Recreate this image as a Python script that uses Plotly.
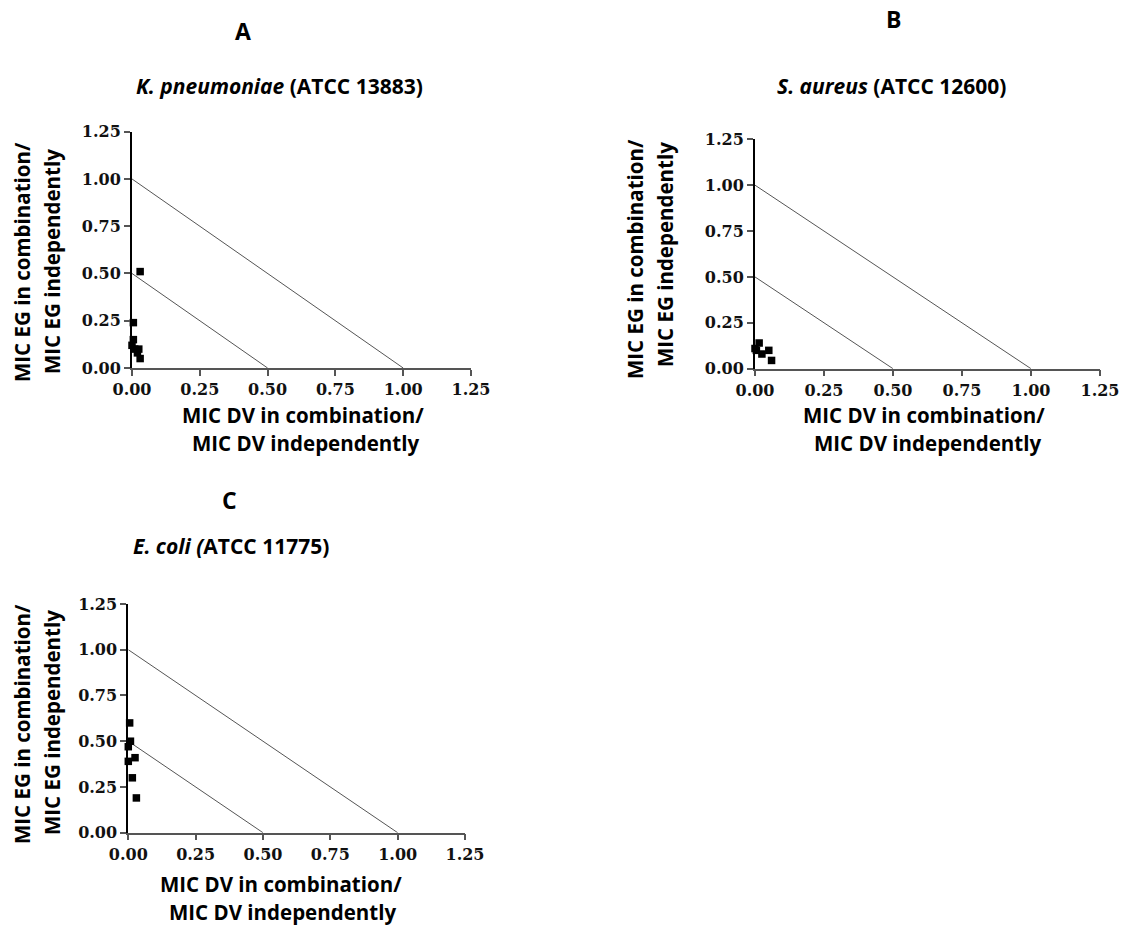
import plotly.graph_objects as go

# ---- data ----
tick_vals = [0, 0.25, 0.5, 0.75, 1.0, 1.25]
tick_text = ["0.00", "0.25", "0.50", "0.75", "1.00", "1.25"]

# isobologram reference lines
line1_x = [0, 1.0]
line1_y = [1.0, 0]
line05_x = [0, 0.5]
line05_y = [0.5, 0]

# Panel A: K. pneumoniae (ATCC 13883)
a_x = [0.03, 0.005, 0.005, 0.0, 0.01, 0.025, 0.02, 0.03]
a_y = [0.51, 0.24, 0.15, 0.12, 0.10, 0.10, 0.08, 0.05]

# Panel B: S. aureus (ATCC 12600)
b_x = [0.0, 0.015, 0.005, 0.025, 0.05, 0.06]
b_y = [0.11, 0.14, 0.10, 0.08, 0.10, 0.045]

# Panel C: E. coli (ATCC 11775)
c_x = [0.005, 0.008, 0.0, 0.0, 0.025, 0.015, 0.03]
c_y = [0.60, 0.50, 0.47, 0.39, 0.41, 0.30, 0.19]

panel_letters = ["A", "B", "C"]
panel_titles = [
    "<b><i>K. pneumoniae</i> (ATCC 13883)</b>",
    "<b><i>S. aureus</i> (ATCC 12600)</b>",
    "<b><i>E. coli (</i>ATCC 11775)</b>",
]
x_title = ["MIC DV in combination/", "MIC DV independently"]
y_title = ["MIC EG in combination/", "MIC EG independently"]

W, H = 1124, 925


def px(x):
    return x / W


def py(y):
    return 1 - y / H


# panel geometry in page pixels: (left, right, bottom, top)
geo = [
    (132, 471, 368, 131.7),
    (755, 1100, 368.7, 139.3),
    (128.3, 465, 832.7, 604),
]

fig = go.Figure()
datasets = [(a_x, a_y), (b_x, b_y), (c_x, c_y)]
axis_ids = ["", "2", "3"]

for i, ((dx, dy), aid) in enumerate(zip(datasets, axis_ids)):
    xa = "x" + aid
    ya = "y" + aid
    for lx, ly in [(line1_x, line1_y), (line05_x, line05_y)]:
        fig.add_trace(go.Scatter(x=lx, y=ly, mode="lines", xaxis=xa, yaxis=ya,
                                 line=dict(color="#555555", width=1),
                                 showlegend=False, hoverinfo="skip",
                                 cliponaxis=False))
    fig.add_trace(go.Scatter(x=dx, y=dy, mode="markers", xaxis=xa, yaxis=ya,
                             marker=dict(symbol="square", size=7.5, color="black"),
                             showlegend=False, cliponaxis=False))

tickfont = dict(family="DejaVu Serif", size=16, color="#111111", weight="bold")
layout = dict(width=W, height=H, margin=dict(l=0, r=0, t=0, b=0, autoexpand=False),
              paper_bgcolor="white", plot_bgcolor="white", showlegend=False)

for i, aid in enumerate(axis_ids):
    l, r, b, t = geo[i]
    xname = "xaxis" + aid
    yname = "yaxis" + aid
    layout[xname] = dict(domain=[px(l), px(r)], range=[0, 1.25],
                         anchor="y" + aid, showgrid=False, zeroline=False,
                         automargin=False,
                         showline=True, linecolor="#555555", linewidth=1.5,
                         ticks="outside", ticklen=6, tickwidth=1.5,
                         tickcolor="#555555", tickvals=tick_vals,
                         ticktext=tick_text, tickfont=tickfont)
    layout[yname] = dict(domain=[py(b), py(t)], range=[0, 1.25],
                         anchor="x" + aid, showgrid=False, zeroline=False,
                         automargin=False,
                         showline=True, linecolor="black", linewidth=2,
                         ticks="outside", ticklen=6, tickwidth=1.5,
                         tickcolor="#555555", tickvals=tick_vals,
                         ticktext=tick_text, tickfont=tickfont)

fig.update_layout(**layout)

sans = "Open Sans"
ann = []
# panel letters
letter_pos = [(243, 31), (893, 19), (229, 500)]
for (x, y), s in zip(letter_pos, panel_letters):
    ann.append(dict(x=px(x), y=py(y), text="<b>" + s + "</b>",
                    font=dict(family=sans, size=23, color="black")))
# species titles
title_pos = [(279, 86), (891, 86), (231, 546)]
for (x, y), s in zip(title_pos, panel_titles):
    ann.append(dict(x=px(x), y=py(y), text=s,
                    font=dict(family=sans, size=21, color="black")))
# x axis titles
xt_pos = [((303, 415), (305, 443)), ((924, 415), (927, 443)),
          ((281, 884), (282, 912))]
for (p1, p2) in xt_pos:
    for (x, y), s in zip((p1, p2), x_title):
        ann.append(dict(x=px(x), y=py(y), text="<b>" + s + "</b>",
                        font=dict(family=sans, size=20.5, color="black")))
# y axis titles
yt_pos = [((22, 262), (52, 261)), ((635, 259), (665, 255)),
          ((22, 724), (52, 722))]
for (p1, p2) in yt_pos:
    for (x, y), s in zip((p1, p2), y_title):
        ann.append(dict(x=px(x), y=py(y), text="<b>" + s + "</b>",
                        textangle=-90,
                        font=dict(family=sans, size=20.5, color="black")))

for a in ann:
    a.update(xref="paper", yref="paper", showarrow=False,
             xanchor="center", yanchor="middle")
fig.update_layout(annotations=ann)

fig.write_html(
    "out.html",
    config={"displayModeBar": False},
    post_script="document.body.style.margin='0';"
                "document.body.style.overflow='hidden';",
)
